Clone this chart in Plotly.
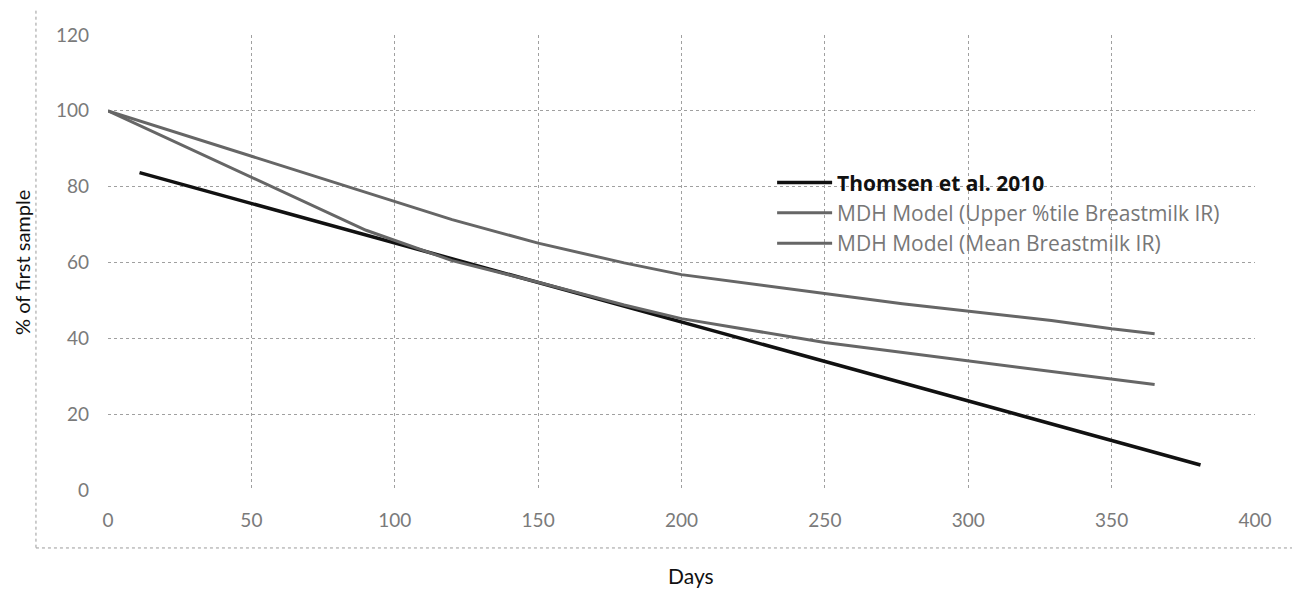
import plotly.graph_objects as go

# Data
thomsen_days = [11, 381]
thomsen_pct = [83.7, 6.6]

upper_days = [0, 30, 60, 90, 120, 150, 180, 200, 250, 280, 330, 365]
upper_pct = [100, 89.5, 79.0, 68.5, 60.5, 54.8, 48.8, 45.2, 38.9, 36.0, 31.0, 27.8]

mean_days = [0, 30, 60, 90, 120, 150, 180, 200, 250, 277, 329, 350, 365]
mean_pct = [100, 92.8, 85.6, 78.3, 71.3, 65.1, 59.9, 56.8, 51.7, 49.1, 44.7, 42.5, 41.2]

x_ticks = [0, 50, 100, 150, 200, 250, 300, 350, 400]
y_ticks = [0, 20, 40, 60, 80, 100, 120]

FONT = "Lato"
GRID = "#a0a0a0"
TICKC = "#7a7a7a"
MODELC = "#666666"

fig = go.Figure()
fig.add_trace(go.Scatter(
    x=thomsen_days, y=thomsen_pct, mode="lines",
    name="<b>Thomsen et al. 2010</b>",
    line=dict(color="#111111", width=3.5),
))
fig.add_trace(go.Scatter(
    x=upper_days, y=upper_pct, mode="lines",
    name="<span style='color:#777777'>MDH Model (Upper %tile Breastmilk IR)</span>",
    line=dict(color=MODELC, width=3),
))
fig.add_trace(go.Scatter(
    x=mean_days, y=mean_pct, mode="lines",
    name="<span style='color:#777777'>MDH Model (Mean Breastmilk IR)</span>",
    line=dict(color=MODELC, width=3),
))

fig.update_layout(
    width=1292, height=583,
    margin=dict(l=100, r=45, t=27, b=101, autoexpand=False),
    paper_bgcolor="white", plot_bgcolor="white",
    font=dict(family=FONT, color="#222"),
    showlegend=True,
    legend=dict(
        x=0.579, y=0.72, xanchor="left", yanchor="top",
        bgcolor="rgba(0,0,0,0)", borderwidth=0,
        font=dict(family="Open Sans", size=21, color="#111"),
        itemwidth=55, tracegroupgap=0,
    ),
    xaxis=dict(
        range=[0, 400], tickvals=x_ticks, ticktext=[str(v) for v in x_ticks],
        showgrid=True, gridcolor=GRID, griddash="dot", gridwidth=1,
        zeroline=False, showline=False, ticks="", automargin=False,
        tickfont=dict(family=FONT, size=19, color=TICKC),
        ticklabelstandoff=17,
    ),
    yaxis=dict(
        range=[0, 120], tickvals=y_ticks, ticktext=[str(v) for v in y_ticks],
        showgrid=True, gridcolor=GRID, griddash="dot", gridwidth=1,
        zeroline=False, showline=False, ticks="", automargin=False,
        tickfont=dict(family=FONT, size=19, color=TICKC),
        ticklabelstandoff=18,
    ),
    annotations=[
        dict(text="Days", xref="paper", yref="paper", x=0.508, y=-0.189,
             xanchor="center", yanchor="middle", showarrow=False,
             font=dict(family=FONT, size=21, color="#111")),
        dict(text="% of first sample", xref="paper", yref="paper", x=-0.0755, y=0.5,
             xanchor="center", yanchor="middle", showarrow=False, textangle=-90,
             font=dict(family=FONT, size=20, color="#111")),
    ],
    shapes=[dict(
        type="rect", xref="paper", yref="paper",
        x0=-0.0628, x1=1.0366, y0=-0.1274, y1=1.0608,
        line=dict(color="#9a9a9a", width=1, dash="dot"),
        fillcolor="rgba(0,0,0,0)", layer="below",
    )],
)

fig.write_html("out.html")
